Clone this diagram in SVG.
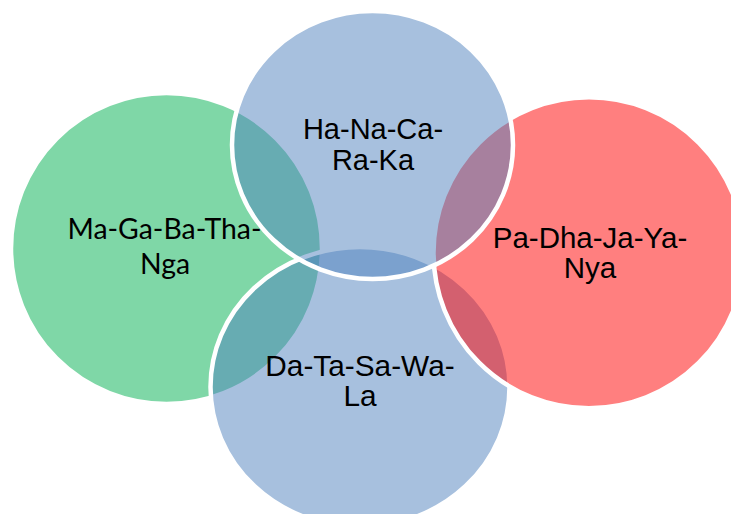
<svg xmlns="http://www.w3.org/2000/svg" width="731" height="514" viewBox="0 0 731 514">
<style>
.c{stroke:#FFFFFF;stroke-width:4.5;fill-opacity:0.5}
.t{font-family:"Liberation Sans",Arial,sans-serif;fill:#000000;text-anchor:middle}
.g{font-family:Lato,"Liberation Sans",sans-serif;fill:#000000;text-anchor:middle}
</style>
<rect width="731" height="514" fill="#FFFFFF"/>
<g id="node-ma">
<circle class="c" cx="166.5" cy="248.5" r="155.5" fill="#00B050"/>
<text class="g" font-size="28.4" x="164.5" y="239">Ma-Ga-Ba-Tha-</text>
<text class="g" font-size="28.4" x="165" y="274">Nga</text>
</g>
<g id="node-da">
<ellipse class="c" cx="360" cy="387" rx="149.5" ry="140" fill="#4F81BD"/>
<text class="t" font-size="29.8" x="360" y="375.5">Da-Ta-Sa-Wa-</text>
<text class="t" font-size="29.8" x="360" y="405.5">La</text>
</g>
<g id="node-pa">
<circle class="c" cx="589" cy="252.75" r="155.5" fill="#FF0000"/>
<text class="t" font-size="29.5" x="590" y="247.5">Pa-Dha-Ja-Ya-</text>
<text class="t" font-size="29.5" x="590" y="277.5">Nya</text>
</g>
<g id="node-ha">
<ellipse class="c" cx="372.5" cy="145" rx="140.5" ry="134" fill="#4F81BD"/>
<text class="t" font-size="29" x="373" y="139">Ha-Na-Ca-</text>
<text class="t" font-size="29" x="373" y="170">Ra-Ka</text>
</g>
<g id="connectors"/>
</svg>
